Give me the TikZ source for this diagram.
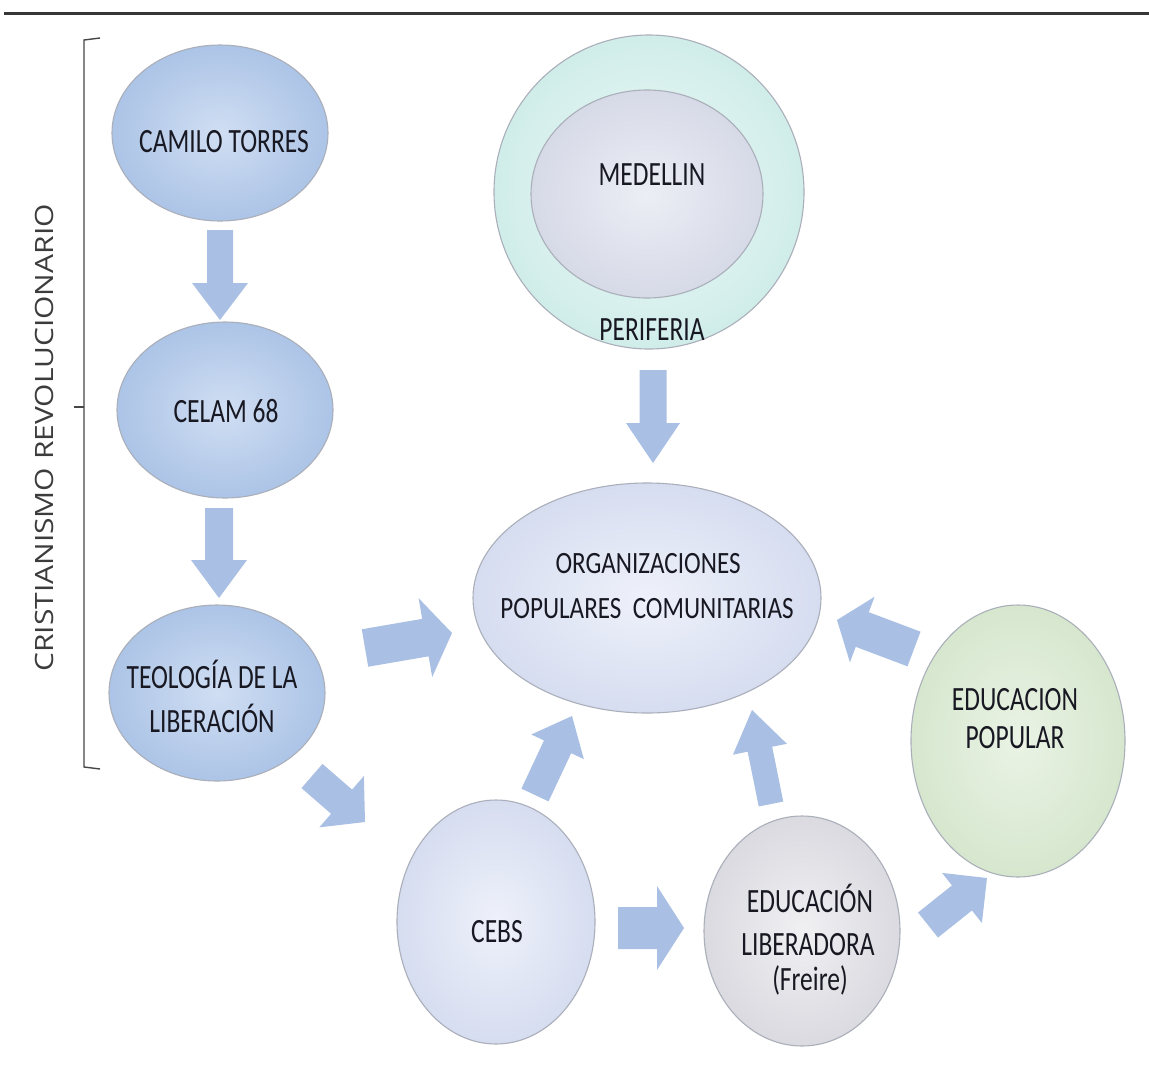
\documentclass[tikz,border=0pt]{standalone}
\usepackage{fontspec}
\setmainfont{Carlito}[FakeStretch=0.75]
\newfontfamily\orgfont{Carlito}[FakeStretch=0.81]
\newfontfamily\sidefont{Open Sans}[FakeStretch=1.19]
\usetikzlibrary{shapes.geometric,calc}
\definecolor{arrowc}{RGB}{169,191,227}
\definecolor{blueL}{RGB}{208,222,243}
\definecolor{blueD}{RGB}{172,196,230}
\definecolor{aquaL}{RGB}{238,249,247}
\definecolor{aquaD}{RGB}{208,237,234}
\definecolor{lavL}{RGB}{236,238,245}
\definecolor{lavD}{RGB}{214,218,231}
\definecolor{orgL}{RGB}{238,241,250}
\definecolor{orgD}{RGB}{214,221,240}
\definecolor{grayL}{RGB}{240,239,242}
\definecolor{grayD}{RGB}{219,218,224}
\definecolor{greenL}{RGB}{234,243,229}
\definecolor{greenD}{RGB}{214,231,206}
\definecolor{rim}{RGB}{170,175,186}
\definecolor{txtc}{RGB}{24,24,34}
\definecolor{sidec}{RGB}{60,60,60}
\definecolor{rulec}{RGB}{55,55,55}
\definecolor{brc}{RGB}{70,70,70}
\newcommand{\blockarrow}[5]{%
  \fill[arrowfill]
    ($(#1)!#3!90:(#2)$) --
    ($ ($(#2)!#5!(#1)$) !#3!90:(#2) $) --
    ($ ($(#2)!#5!(#1)$) !#4!90:(#2) $) --
    (#2) --
    ($ ($(#2)!#5!(#1)$) !#4!-90:(#2) $) --
    ($ ($(#2)!#5!(#1)$) !#3!-90:(#2) $) --
    ($(#1)!#3!-90:(#2)$) -- cycle;}
\tikzset{
  ell/.style={ellipse, inner sep=0pt, outer sep=0pt, draw=rim, line width=1.1pt},
  blueell/.style={ell, inner color=blueL, outer color=blueD},
  aquaell/.style={ell, inner color=aquaL, outer color=aquaD},
  lavell/.style={ell, inner color=lavL, outer color=lavD},
  orgell/.style={ell, inner color=orgL, outer color=orgD},
  grayell/.style={ell, inner color=grayL, outer color=grayD},
  greenell/.style={ell, inner color=greenL, outer color=greenD},
  lbl/.style={inner sep=0pt, anchor=base, text=txtc, font=\fontsize{34}{42}\selectfont},
  orglbl/.style={inner sep=0pt, anchor=base, text=txtc, font=\orgfont\fontsize{31}{40}\selectfont},
  sidelbl/.style={inner sep=0pt, text=sidec, font=\sidefont\fontsize{25.2}{30}\selectfont, rotate=90},
  arrowfill/.style={fill=arrowc},
  toprule/.style={draw=rulec, line width=3pt},
  bracketline/.style={draw=brc, line width=1.4pt},
}
\begin{document}
\begin{tikzpicture}[x=1pt,y=-1pt]
\fill[white] (0,0) rectangle (1149,1080);
\path[use as bounding box] (0,0) rectangle (1149,1080);

% top rule
\coordinate (ruleL) at (4,13);
\coordinate (ruleR) at (1149,13);
\draw[toprule] (ruleL) -- (ruleR);

% bracket and side label
\coordinate (brT) at (100,38);
\coordinate (brTc) at (84,40);
\coordinate (brB) at (100,769);
\coordinate (brBc) at (84,767);
\coordinate (brM) at (84,407);
\coordinate (brMt) at (74,407);
\draw[bracketline] (brT) -- (brTc) -- (brBc) -- (brB);
\draw[bracketline] (brM) -- (brMt);
\node[sidelbl] (side) at (44,438) {CRISTIANISMO REVOLUCIONARIO};

% left column
\node[blueell, minimum width=216pt, minimum height=176pt] (camilo) at (220,133) {};
\node[lbl] (camiloT) at (224,152) {CAMILO TORRES};
\node[blueell, minimum width=216pt, minimum height=176pt] (celam) at (225,410) {};
\node[lbl] (celamT) at (226,422) {CELAM 68};
\node[blueell, minimum width=216pt, minimum height=176pt] (teo) at (217,693) {};
\node[lbl] (teoT1) at (212,688) {TEOLOGÍA DE LA};
\node[lbl] (teoT2) at (212,732) {LIBERACIÓN};

% Medellin / periferia
\node[aquaell, minimum width=310pt, minimum height=314pt] (peri) at (649,192) {};
\node[lavell, minimum width=232pt, minimum height=208pt] (med) at (647,194) {};
\node[lbl] (medT) at (652,185) {MEDELLIN};
\node[lbl] (periT) at (652,340) {PERIFERIA};

% centre
\node[orgell, minimum width=348pt, minimum height=230pt] (org) at (647,598) {};
\node[orglbl] (orgT1) at (648,573) {ORGANIZACIONES};
\node[orglbl] (orgT2) at (647,618) {POPULARES\ \ COMUNITARIAS};

% bottom row
\node[orgell, minimum width=198pt, minimum height=244pt] (cebs) at (496,922) {};
\node[lbl] (cebsT) at (497,942) {CEBS};
\node[grayell, minimum width=196pt, minimum height=230pt] (el) at (802,931) {};
\node[lbl] (elT1) at (810,912) {EDUCACIÓN};
\node[lbl] (elT2) at (808,955) {LIBERADORA};
\node[lbl] (elT3) at (810,990) {(Freire)};
\node[greenell, minimum width=214pt, minimum height=272pt] (ep) at (1018,741) {};
\node[lbl] (epT1) at (1015,710) {EDUCACION};
\node[lbl] (epT2) at (1015,748) {POPULAR};

% block arrows (free ends as named coordinates)
\coordinate (a1s) at (220,230); \coordinate (a1e) at (220,320);
\coordinate (a2s) at (219,508); \coordinate (a2e) at (219,598);
\coordinate (a3s) at (653,370); \coordinate (a3e) at (653,463);
\coordinate (a4s) at (365,648); \coordinate (a4e) at (452,633);
\coordinate (a5s) at (312,776); \coordinate (a5e) at (365,822);
\coordinate (a6s) at (535,795); \coordinate (a6e) at (572,716);
\coordinate (a7s) at (618,928); \coordinate (a7e) at (684,928);
\coordinate (a8s) at (771,804); \coordinate (a8e) at (752,710);
\coordinate (a9s) at (914,649); \coordinate (a9e) at (837,620);
\coordinate (a10s) at (928,925); \coordinate (a10e) at (987,878);
\blockarrow{a1s}{a1e}{13pt}{28pt}{37pt}
\blockarrow{a2s}{a2e}{14pt}{28pt}{38pt}
\blockarrow{a3s}{a3e}{13.5pt}{27pt}{40pt}
\blockarrow{a4s}{a4e}{19pt}{40pt}{27pt}
\blockarrow{a5s}{a5e}{16pt}{34pt}{31pt}
\blockarrow{a6s}{a6e}{15pt}{29pt}{34pt}
\blockarrow{a7s}{a7e}{21pt}{42pt}{27pt}
\blockarrow{a8s}{a8e}{12.5pt}{27.5pt}{40pt}
\blockarrow{a9s}{a9e}{18.5pt}{35pt}{27pt}
\blockarrow{a10s}{a10e}{16pt}{32pt}{32pt}
\end{tikzpicture}
\end{document}
